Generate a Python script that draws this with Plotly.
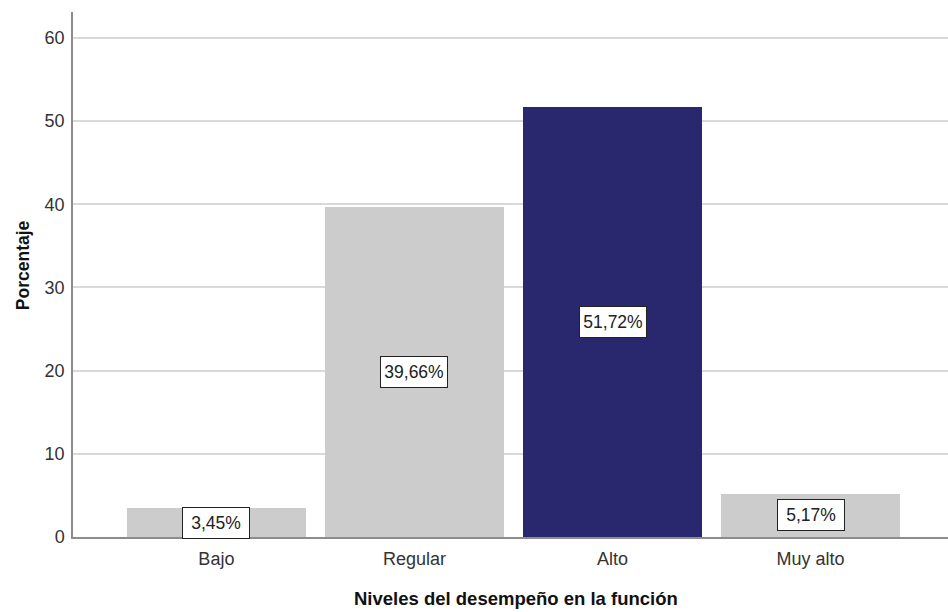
import plotly.graph_objects as go

# Distribución porcentual por nivel de desempeño
categorias = ["Bajo", "Regular", "Alto", "Muy alto"]
porcentajes = [3.45, 39.66, 51.72, 5.17]
colores = ["#cccccc", "#cccccc", "#29286e", "#cccccc"]
y_ticks = [0, 10, 20, 30, 40, 50, 60]

FONT = "Liberation Sans, Arial, sans-serif"

etiquetas = [f"{v:.2f}".replace(".", ",") + "%" for v in porcentajes]

fig = go.Figure()
fig.add_trace(go.Bar(
    x=list(range(len(categorias))),
    y=porcentajes,
    width=0.903,
    marker=dict(color=colores, line=dict(width=0)),
    hoverinfo="skip",
))

# Etiquetas de valor en recuadro, centradas en cada barra
for i, (v, t) in enumerate(zip(porcentajes, etiquetas)):
    fig.add_annotation(
        x=i, y=v / 2, text=t, showarrow=False,
        font=dict(family=FONT, size=17.5, color="#222222"),
        width=66, height=30, align="center", valign="middle",
        bgcolor="white", bordercolor="#222222", borderwidth=1, borderpad=0,
    )

# Títulos de los ejes
fig.add_annotation(
    x=-0.057, xref="paper", xanchor="center",
    y=0.518, yref="paper", yanchor="middle",
    text="<b>Porcentaje</b>", showarrow=False, textangle=-90,
    font=dict(family=FONT, size=17.5, color="#111111"),
)
fig.add_annotation(
    x=0.506, xref="paper", xanchor="center",
    y=-0.117, yref="paper", yanchor="middle",
    text="<b>Niveles del desempeño en la función</b>", showarrow=False,
    font=dict(family=FONT, size=18.5, color="#111111"),
)

fig.update_layout(
    width=948, height=612,
    margin=dict(l=73, r=0, t=12, b=75),
    paper_bgcolor="white", plot_bgcolor="white",
    showlegend=False,
    bargap=0,
    xaxis=dict(
        range=[-0.724, 3.694],
        tickmode="array",
        tickvals=list(range(len(categorias))),
        ticktext=categorias,
        tickfont=dict(family=FONT, size=18, color="#333333"),
        showgrid=False, zeroline=False,
        showline=True, linecolor="#8c8c8c", linewidth=1.5,
        ticks="", ticklabelstandoff=5,
    ),
    yaxis=dict(
        range=[0, 63.1],
        tickmode="array",
        tickvals=y_ticks,
        tickfont=dict(family=FONT, size=18, color="#333333"),
        showgrid=True, gridcolor="#d9d9d9", gridwidth=1.5,
        zeroline=False,
        showline=True, linecolor="#8c8c8c", linewidth=1.5,
        ticks="", ticklabelstandoff=3,
    ),
)

fig.write_html("out.html")
